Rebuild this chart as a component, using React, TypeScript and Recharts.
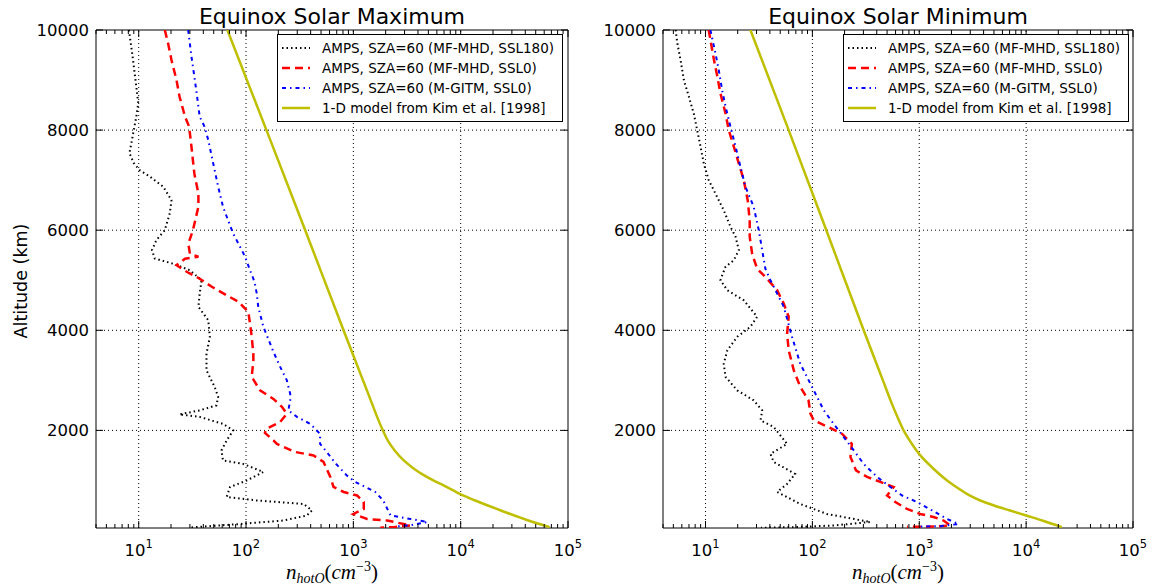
import React from "react"
import { ScatterChart, Scatter, XAxis, YAxis, ReferenceLine, ReferenceArea } from "recharts"

// [altitude (km), n_hotO (cm^-3)]
type Pt = [number, number]

// Equinox solar maximum
const maxSsl180: Pt[] = [
  [10000, 8.1], [9530, 8.7], [8870, 9.5], [8540, 9.9], [8270, 9.5], [8000, 9.0], [7540, 8.2],
  [7340, 9.0], [7200, 10.2], [7070, 12.7], [6870, 16.9], [6600, 20.2], [6340, 19.5], [6000, 17.5],
  [5800, 14.6], [5600, 13.3], [5435, 14.1], [5330, 21], [5200, 30], [5000, 38.5], [4730, 37],
  [4470, 36], [4200, 44.5], [3870, 46], [3530, 42.8], [3200, 42.8], [2870, 51], [2670, 55],
  [2500, 53], [2400, 37], [2320, 24], [2270, 37], [2130, 61], [2000, 76], [1800, 66], [1600, 59],
  [1400, 61], [1330, 94], [1170, 145], [1000, 102], [870, 71], [670, 66], [600, 126], [530, 344],
  [400, 411], [300, 369], [200, 224], [130, 88], [60, 30],
]
const maxSsl0: Pt[] = [
  [10000, 17.5], [9730, 18.8], [9400, 20.2], [9000, 22.5], [8670, 24], [8270, 27], [8070, 29.5],
  [7670, 31], [7130, 33], [6730, 36], [6470, 36], [6000, 32], [5730, 29], [5530, 30], [5470, 36],
  [5430, 27], [5300, 22.5], [5170, 28], [5030, 37], [4870, 48], [4700, 66], [4570, 85], [4370, 105],
  [4130, 109], [3870, 113], [3530, 117], [3400, 117], [3070, 113], [2800, 135], [2630, 180],
  [2470, 216], [2330, 240], [2170, 208], [2030, 155], [1950, 150], [1800, 180], [1730, 194],
  [1570, 285], [1500, 425], [1370, 527], [1070, 610], [870, 653], [770, 813], [700, 1084],
  [570, 1250], [430, 1250], [330, 1000], [230, 1343], [200, 2065], [100, 3410], [67, 2380], [55, 1780],
]
const maxGitm: Pt[] = [
  [10000, 28.9], [9470, 31], [9130, 32.7], [8730, 34.7], [8270, 37], [8070, 41], [7800, 44.5],
  [7330, 49.5], [6870, 55], [6470, 61], [6200, 68], [5930, 76], [5730, 85], [5470, 98], [5200, 109],
  [5030, 117], [4930, 121], [4730, 126], [4470, 130], [4070, 145], [3570, 180], [3270, 208],
  [3000, 240], [2730, 258], [2600, 258], [2400, 248], [2270, 298], [2130, 397], [1930, 490],
  [1730, 490], [1600, 550], [1330, 690], [1100, 870], [970, 1040], [770, 1600], [600, 1900],
  [300, 2220], [230, 3410], [170, 4900], [100, 3280], [80, 2450],
]
const maxKim: Pt[] = [
  [10000, 67], [8000, 155], [6000, 356], [4000, 810], [3000, 1230], [2500, 1514], [2250, 1679],
  [2000, 1884], [1800, 2089], [1600, 2427], [1400, 2951], [1250, 3589], [1100, 4571], [1000, 5559],
  [900, 6918], [800, 8511], [720, 10000], [600, 13650], [400, 23660], [200, 42660], [67, 67600],
]

// Equinox solar minimum
const minSsl180: Pt[] = [
  [10000, 5.25], [9730, 5.45], [9400, 5.84], [9000, 6.27], [8670, 6.98], [8330, 7.76], [8000, 8.36],
  [7670, 8.98], [7330, 9.64], [7000, 10.7], [6730, 12.4], [6400, 14.8], [6070, 17.1], [5870, 19.1],
  [5600, 20.5], [5400, 18.4], [5270, 15.4], [5130, 14.5], [5000, 13.8], [4800, 16], [4600, 22.8],
  [4270, 30.4], [4070, 26.3], [3870, 19.8], [3600, 16], [3330, 14.8], [3070, 15.4], [2800, 19.8],
  [2600, 28.2], [2400, 33.9], [2200, 32.7], [2070, 43.4], [1730, 58], [1530, 40.5], [1370, 43.4],
  [1130, 69], [930, 58], [770, 46.8], [530, 77], [330, 137], [170, 348], [100, 158], [67, 67],
  [55, 33],
]
const minSsl0: Pt[] = [
  [10000, 10.7], [9400, 12], [9070, 12.9], [8730, 13.8], [8330, 15.4], [8000, 16.5], [7670, 18.4],
  [7330, 20.5], [7000, 22.8], [6600, 24.8], [6200, 25.9], [5870, 25.9], [5530, 27.3], [5230, 30.4],
  [5030, 37.7], [4800, 46.8], [4530, 54], [4270, 60], [3930, 58], [3600, 60], [3200, 67], [2870, 77],
  [2600, 92], [2330, 96], [2200, 103], [2070, 140], [1930, 190], [1730, 234], [1470, 227],
  [1200, 256], [1070, 325], [970, 432], [870, 576], [700, 500], [570, 597], [430, 767], [330, 1020],
  [270, 1360], [200, 1690], [100, 1950], [80, 1460], [73, 767],
]
const minGitm: Pt[] = [
  [10000, 11.1], [9530, 12.4], [9200, 13.3], [8800, 14.3], [8470, 15.4], [8070, 17.1], [7670, 19.1],
  [7270, 21.2], [6870, 23.6], [6470, 28.2], [6000, 31.5], [5600, 33.9], [5230, 36.3], [5000, 40.5],
  [4470, 54], [3870, 64.5], [3330, 77], [2930, 96], [2400, 128], [2130, 158], [1870, 196],
  [1600, 244], [1330, 302], [1070, 403], [870, 536], [700, 689], [570, 950], [400, 1320],
  [230, 1820], [130, 2330], [87, 1570], [80, 1020],
]
const minKim: Pt[] = [
  [10000, 26.3], [8000, 60], [6000, 135], [4000, 302], [3000, 457], [2500, 562], [2250, 631],
  [2000, 713], [1750, 841], [1500, 1023], [1250, 1334], [1000, 1820], [850, 2291], [700, 2951],
  [600, 3715], [500, 5012], [400, 7079], [300, 10000], [200, 14125], [67, 21580],
]

const legendLabels = [
  "AMPS, SZA=60 (MF-MHD, SSL180)",
  "AMPS, SZA=60 (MF-MHD, SSL0)",
  "AMPS, SZA=60 (M-GITM, SSL0)",
  "1-D model from Kim et al. [1998]",
]
const lineStyles = [
  { stroke: "#000000", strokeWidth: 2, strokeDasharray: "1.5 3" },
  { stroke: "#ff0000", strokeWidth: 2.5, strokeDasharray: "8 5" },
  { stroke: "#0000ff", strokeWidth: 2, strokeDasharray: "4 4 1.5 4" },
  { stroke: "#bfbf00", strokeWidth: 2.5 },
]
const curveTypes = ["linear", "linear", "linear", "monotoneY"]

const xMajor = [10, 100, 1000, 10000, 100000]
const xMinor = [1, 10, 100, 1000, 10000]
  .flatMap((d) => [2, 3, 4, 5, 6, 7, 8, 9].map((k) => k * d))
  .filter((v) => v >= 4)
const xTicks = [...xMajor, ...xMinor]
const yTicks = [2000, 4000, 6000, 8000, 10000]
const xGrid = [10, 100, 1000, 10000]
const yGrid = [2000, 4000, 6000, 8000]

const FONT = "DejaVu Sans"
const PLOT_H = 498

const NoDot = () => <g />

function makeXTick() {
  return (props: any) => {
    const { x, y, payload } = props
    const v = payload.value
    const major = xMajor.includes(v)
    const len = major ? 7 : 4
    return (
      <g>
        <line x1={x} x2={x} y1={y} y2={y - len} stroke="#000" />
        <line x1={x} x2={x} y1={y - PLOT_H} y2={y - PLOT_H + len} stroke="#000" />
        {major && (
          <text x={x} y={y + 28} textAnchor="middle" fontSize={16.5} fontFamily={FONT} fill="#000">
            10<tspan dy={-8} fontSize={11.5}>{Math.round(Math.log10(v))}</tspan>
          </text>
        )}
      </g>
    )
  }
}

function makeYTick(plotW: number) {
  return (props: any) => {
    const { x, y, payload } = props
    return (
      <g>
        <line x1={x} x2={x + 7} y1={y} y2={y} stroke="#000" />
        <line x1={x + plotW - 7} x2={x + plotW} y1={y} y2={y} stroke="#000" />
        <text x={x - 7} y={y} dy="0.35em" textAnchor="end" fontSize={16.5} fontFamily={FONT} fill="#000">
          {payload.value}
        </text>
      </g>
    )
  }
}

function Panel({ series, width, mLeft, mRight }: { series: Pt[][]; width: number; mLeft: number; mRight: number }) {
  const plotW = width - mLeft - mRight - 60
  return (
    <ScatterChart width={width} height={588} margin={{ top: 30, right: mRight, bottom: 0, left: mLeft }}>
      <XAxis
        type="number"
        dataKey="n"
        scale="log"
        domain={[4, 100000]}
        allowDataOverflow
        ticks={xTicks}
        interval={0}
        height={60}
        axisLine={false}
        tickLine={false}
        tickSize={0}
        tickMargin={0}
        tick={makeXTick()}
      />
      <YAxis
        type="number"
        dataKey="alt"
        domain={[50, 10000]}
        allowDataOverflow
        ticks={yTicks}
        interval={0}
        width={60}
        axisLine={false}
        tickLine={false}
        tickSize={0}
        tickMargin={0}
        tick={makeYTick(plotW)}
      />
      {xGrid.map((v) => (
        <ReferenceLine key={`gx${v}`} x={v} stroke="#000" strokeDasharray="1 3" strokeWidth={1} />
      ))}
      {yGrid.map((v) => (
        <ReferenceLine key={`gy${v}`} y={v} stroke="#000" strokeDasharray="1 3" strokeWidth={1} />
      ))}
      {series.map((s, i) => (
        <Scatter
          key={i}
          data={s.map(([alt, n]) => ({ alt, n }))}
          fill={lineStyles[i].stroke}
          shape={NoDot}
          line={{ ...lineStyles[i], fill: "none", type: curveTypes[i] } as any}
          lineType="joint"
          lineJointType={curveTypes[i] as any}
          isAnimationActive={false}
        />
      ))}
      <ReferenceArea x1={4} x2={100000} y1={50} y2={10000} fill="none" stroke="#000" strokeWidth={1} ifOverflow="visible" />
    </ScatterChart>
  )
}

function LegendBox({ left }: { left: number }) {
  return (
    <div
      style={{
        position: "absolute",
        left,
        top: 34,
        width: 284,
        border: "1px solid #000",
        background: "#fff",
        padding: "3px 0",
        fontFamily: FONT,
        fontSize: 13.5,
      }}
    >
      {legendLabels.map((label, i) => (
        <div key={label} style={{ display: "flex", alignItems: "center", height: 20, whiteSpace: "nowrap" }}>
          <svg width={44} height={20} style={{ flex: "none" }}>
            <line x1={4} x2={32} y1={10} y2={10} {...lineStyles[i]} />
          </svg>
          <span>{label}</span>
        </div>
      ))}
    </div>
  )
}

function XLabel({ cx }: { cx: number }) {
  return (
    <text x={cx} y={579} textAnchor="middle" fontFamily="Liberation Serif" fontSize={21} fill="#000">
      <tspan fontStyle="italic">n</tspan>
      <tspan fontStyle="italic" fontSize={14} dy={4}>hotO</tspan>
      <tspan dy={-4}>(</tspan>
      <tspan fontStyle="italic">cm</tspan>
      <tspan fontSize={14} dy={-8}>−3</tspan>
      <tspan dy={8}>)</tspan>
    </text>
  )
}

export default function App() {
  return (
    <div style={{ position: "absolute", left: 0, top: 0, width: 1169, height: 588, background: "#fff", fontFamily: FONT }}>
      <div style={{ position: "absolute", left: 0, top: 0 }}>
        <Panel series={[maxSsl180, maxSsl0, maxGitm, maxKim]} width={592} mLeft={36} mRight={24} />
      </div>
      <div style={{ position: "absolute", left: 580, top: 0 }}>
        <Panel series={[minSsl180, minSsl0, minGitm, minKim]} width={589} mLeft={23} mRight={36} />
      </div>
      <LegendBox left={277} />
      <LegendBox left={843} />
      <svg width={1169} height={588} style={{ position: "absolute", left: 0, top: 0, pointerEvents: "none" }}>
        <text x={332} y={24} textAnchor="middle" fontSize={22} fontFamily={FONT} fill="#000">
          Equinox Solar Maximum
        </text>
        <text x={898} y={24} textAnchor="middle" fontSize={22} fontFamily={FONT} fill="#000">
          Equinox Solar Minimum
        </text>
        <text x={27} y={281} transform="rotate(-90 27 281)" textAnchor="middle" fontSize={17.5} fontFamily={FONT} fill="#000">
          Altitude (km)
        </text>
        <XLabel cx={332} />
        <XLabel cx={898} />
      </svg>
    </div>
  )
}
